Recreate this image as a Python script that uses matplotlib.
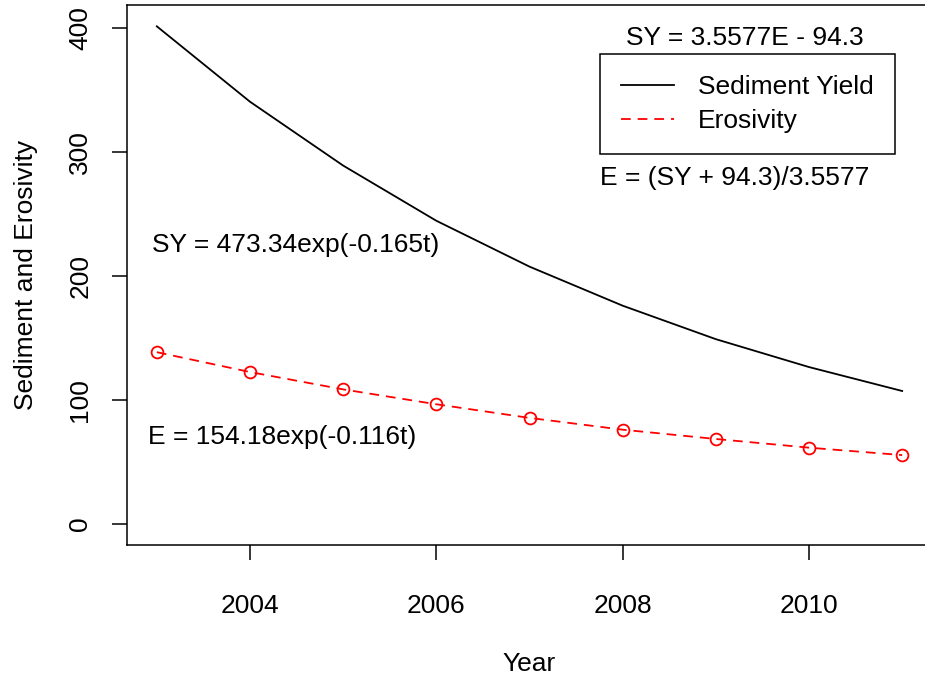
import numpy as np
import matplotlib
matplotlib.use("Agg")
import matplotlib.pyplot as plt

plt.rcParams['font.family'] = ['Liberation Sans', 'DejaVu Sans']
plt.rcParams['lines.scale_dashes'] = False

years = [2003, 2004, 2005, 2006, 2007, 2008, 2009, 2010, 2011]
sediment = [401.3, 340.5, 289.0, 244.5, 207.5, 176.0, 149.0, 126.5, 107.2]
erosivity = [138.5, 122.5, 108.5, 96.5, 85.5, 76.0, 68.5, 61.5, 55.5]

xticks = [2004, 2006, 2008, 2010]
yticks = [0, 100, 200, 300, 400]

fs = 19

fig = plt.figure(figsize=(9.25, 6.79), dpi=100)
ax = fig.add_axes([127/925, 134/679, 805/925, 540/679])

ax.plot(years, sediment, color='black', lw=1.3, label='Sediment Yield')
ax.plot(years, erosivity, color='red', lw=1.3, dashes=(7, 5), label='Erosivity')
ax.plot(years, erosivity, linestyle='none', marker='o', ms=8.5,
        mfc='none', mec='red', mew=1.3)

ax.set_xlim(2002.68, 2011.32)
ax.set_ylim(-17, 418.5)
ax.set_xticks(xticks)
ax.set_yticks(yticks)
ax.set_xticklabels([str(t) for t in xticks], fontsize=fs)
ax.set_yticklabels([str(t) for t in yticks], fontsize=fs, rotation=90, va='center')
ax.tick_params(direction='out', length=11, width=1.1, pad=14)
ax.tick_params(axis='x', pad=24)
for s in ax.spines.values():
    s.set_linewidth(1.1)

ax.set_xlabel('Year', fontsize=fs, labelpad=25)
ax.set_ylabel('Sediment and Erosivity', fontsize=fs, labelpad=22)

ax.text(2004.49, 225, 'SY = 473.34exp(-0.165t)', fontsize=fs, ha='center', va='center')
ax.text(2004.35, 70, 'E = 154.18exp(-0.116t)', fontsize=fs, ha='center', va='center')
ax.text(2009.31, 392, 'SY = 3.5577E - 94.3', fontsize=fs, ha='center', va='center')
ax.text(2009.2, 279, 'E = (SY + 94.3)/3.5577', fontsize=fs, ha='center', va='center')

leg = ax.legend(loc='upper left', bbox_to_anchor=(600/925, 1 - 54/679),
                bbox_transform=fig.transFigure, fontsize=fs, frameon=True,
                fancybox=False, edgecolor='black', framealpha=1,
                handlelength=2.0, handletextpad=0.9, labelspacing=0.38,
                borderpad=0.8, borderaxespad=0)
leg.get_frame().set_linewidth(1.1)

fig.savefig('out.png', dpi=100)
